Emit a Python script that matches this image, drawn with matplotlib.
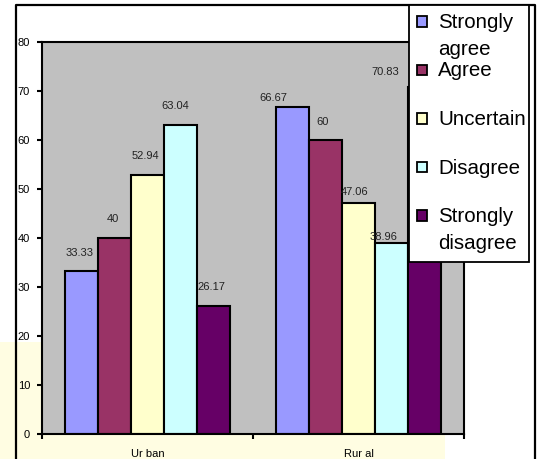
import numpy as np
import matplotlib
matplotlib.use('Agg')
import matplotlib.pyplot as plt
from matplotlib.patches import Rectangle

plt.rcParams['font.family'] = ['Liberation Sans', 'DejaVu Sans']

# survey answers, percent
categories = ['Ur ban', 'Rur al']
series = ['Strongly\nagree', 'Agree', 'Uncertain', 'Disagree', 'Strongly\ndisagree']
urban = [33.33, 40, 52.94, 63.04, 26.17]
rural = [66.67, 60, 47.06, 38.96, 70.83]
colors = ['#9999FF', '#993366', '#FFFFCC', '#CCFFFF', '#660066']

# label nudges in pixels (dx, height above bar top)
nudge_urban = [(-2, 18), (-2, 19), (-2, 19), (-5, 19), (-2, 19)]
nudge_rural = [(-19, 9), (-3, 18), (-4, 11), (-8, 6), (-39, 15)]

W, H = 543, 459
px = 72 / 100  # pixels -> points
fig = plt.figure(figsize=(W / 100, H / 100), dpi=100)

# background layer: pale band + outer frame
bg = fig.add_axes([0, 0, 1, 1], zorder=0)
bg.set_xlim(0, W)
bg.set_ylim(H, 0)
bg.axis('off')
bg.add_patch(Rectangle((0, 342), 445, 130, color='#FFFDE2', lw=0))
bg.plot([16, 16, 535, 535], [470, 5, 5, 470], color='black', lw=1.6)

# chart
ax = fig.add_axes([42 / W, 1 - 434 / H, 422 / W, 392 / H], zorder=1)
ax.set_facecolor('#C0C0C0')
data = np.array([urban, rural])
nudges = [nudge_urban, nudge_rural]
width = 33 / 211
xc = np.arange(len(categories)) + 0.5
for i in range(len(series)):
    x = xc + (i - 2) * width
    ax.bar(x, data[:, i], width, color=colors[i], edgecolor='black', linewidth=1.5, zorder=2)
    for j in range(len(categories)):
        dx, dy = nudges[j][i]
        ax.annotate(f'{data[j, i]:g}', (x[j], data[j, i]), xytext=(dx * px, dy * px),
                    textcoords='offset points', ha='center', va='center',
                    fontsize=8, color='#222222', zorder=3)

ax.set_xlim(0, 2)
ax.set_ylim(0, 80)
ax.set_yticks(range(0, 81, 10))
ax.set_xticks([0, 1, 2])
ax.set_xticklabels([])
ax.set_xticks(xc, minor=True)
ax.set_xticklabels(categories, minor=True)
ax.tick_params(axis='both', which='major', length=5 * px, width=1.5, direction='out',
               labelsize=8, pad=5)
ax.tick_params(axis='x', which='minor', length=0, labelsize=8, pad=11)
for s in ax.spines.values():
    s.set_linewidth(1.5)

# legend box on top
lg = fig.add_axes([0, 0, 1, 1], zorder=3)
lg.set_xlim(0, W)
lg.set_ylim(H, 0)
lg.axis('off')
lg.patch.set_alpha(0)
lg.add_patch(Rectangle((409, 5), 120, 257, facecolor='white', edgecolor='black', lw=1.3))
for i, name in enumerate(series):
    base = 28 + i * 48.5
    lg.add_patch(Rectangle((416.5, base - 12), 10.5, 10.5, facecolor=colors[i],
                           edgecolor='black', lw=1.3))
    for k, line in enumerate(name.split('\n')):
        lg.text(438, base + k * 27, line, fontsize=14.8, va='baseline', ha='left')

fig.savefig('out.png', dpi=100)
